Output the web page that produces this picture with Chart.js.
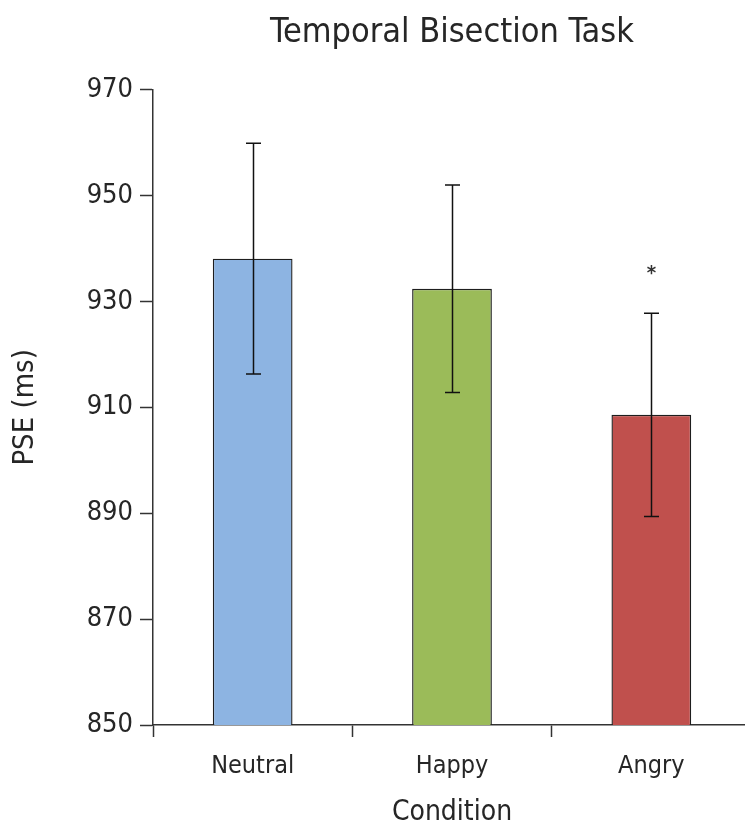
<!DOCTYPE html>
<html>
<head>
<meta charset="utf-8">
<title>Temporal Bisection Task</title>
<script src="https://cdn.jsdelivr.net/npm/chart.js@4/dist/chart.umd.min.js"></script>
<style>
    html, body { margin: 0; padding: 0; background: #fff; overflow: hidden; }
    #wrap { width: 760px; height: 829px; }
</style>
</head>
<body>
<div id="wrap"><canvas id="bisectionChart" width="760" height="829"></canvas></div>
<script>
    'use strict';

    // Data
    const conditions = ['Neutral', 'Happy', 'Angry'];
    const pseMeans = [938.1, 932.4, 908.6];
    const pseErrors = [21.8, 19.6, 19.2];
    const significance = ['', '', '*'];
    const yTicks = [850, 870, 890, 910, 930, 950, 970];
    const barColors = ['#8db4e2', '#9bbb59', '#c0504d'];

    const fontFamily = "'DejaVu Sans Condensed', 'Liberation Sans', sans-serif";
    const inkColor = '#262626';

    // Error bars and the significance star, drawn from the data through the y scale
    const errorBarPlugin = {
        id: 'errorBars',
        afterDatasetsDraw(chart) {
            const ctx = chart.ctx;
            const yScale = chart.scales.y;
            const meta = chart.getDatasetMeta(0);

            ctx.save();
            ctx.strokeStyle = '#111';
            ctx.lineWidth = 1.5;
            meta.data.forEach((bar, i) => {
                const x = Math.round(bar.x) + 0.5;
                const top = yScale.getPixelForValue(pseMeans[i] + pseErrors[i]);
                const bottom = yScale.getPixelForValue(pseMeans[i] - pseErrors[i]);
                ctx.beginPath();
                ctx.moveTo(x, top);
                ctx.lineTo(x, bottom);
                ctx.moveTo(x - 7.5, top);
                ctx.lineTo(x + 7.5, top);
                ctx.moveTo(x - 7.5, bottom);
                ctx.lineTo(x + 7.5, bottom);
                ctx.stroke();

                if (significance[i]) {
                    ctx.fillStyle = '#333';
                    ctx.font = 'bold 20px ' + fontFamily;
                    ctx.textAlign = 'center';
                    ctx.textBaseline = 'alphabetic';
                    ctx.fillText(significance[i], x, top - 34);
                }
            });
            ctx.restore();
        }
    };

    const ctx = document.getElementById('bisectionChart').getContext('2d');
    const chart = new Chart(ctx, {
        type: 'bar',
        data: {
            labels: conditions,
            datasets: [{
                label: 'PSE (ms)',
                data: pseMeans,
                backgroundColor: barColors,
                borderColor: '#1e1e1e',
                borderWidth: 1.4,
                borderSkipped: false,
                barPercentage: 0.4,
                categoryPercentage: 1
            }]
        },
        options: {
            responsive: false,
            animation: false,
            layout: {
                padding: { top: 0, left: 0, right: 9, bottom: 0 }
            },
            plugins: {
                legend: { display: false },
                tooltip: { enabled: false },
                title: {
                    display: true,
                    fullSize: false,
                    text: 'Temporal Bisection Task',
                    color: inkColor,
                    font: { family: fontFamily, size: 34, weight: 'normal' },
                    padding: { top: 13, bottom: 36 }
                }
            },
            scales: {
                x: {
                    grid: {
                        display: true,
                        offset: true,
                        drawOnChartArea: false,
                        drawTicks: true,
                        tickLength: 12,
                        tickWidth: 1.5,
                        tickColor: '#333'
                    },
                    border: { display: true, color: '#333', width: 1.5 },
                    ticks: {
                        color: inkColor,
                        padding: 14,
                        font: { family: fontFamily, size: 25 }
                    },
                    title: {
                        display: true,
                        text: 'Condition',
                        color: inkColor,
                        font: { family: fontFamily, size: 28 },
                        padding: { top: 0, bottom: -1 }
                    },
                    afterFit(scale) {
                        scale.height = 104;
                    }
                },
                y: {
                    min: yTicks[0],
                    max: yTicks[yTicks.length - 1],
                    afterBuildTicks(scale) {
                        scale.ticks = yTicks.map(v => ({ value: v }));
                    },
                    grid: {
                        display: true,
                        drawOnChartArea: false,
                        drawTicks: true,
                        tickLength: 13,
                        tickWidth: 1.5,
                        tickColor: '#333'
                    },
                    border: { display: true, color: '#333', width: 1.5 },
                    ticks: {
                        color: inkColor,
                        padding: 7,
                        font: { family: fontFamily, size: 27 }
                    },
                    title: {
                        display: true,
                        text: 'PSE (ms)',
                        color: inkColor,
                        font: { family: fontFamily, size: 29 },
                        padding: { top: 8, bottom: 0 }
                    },
                    afterFit(scale) {
                        scale.width = 153;
                    }
                }
            }
        },
        plugins: [errorBarPlugin]
    });
</script>
</body>
</html>
